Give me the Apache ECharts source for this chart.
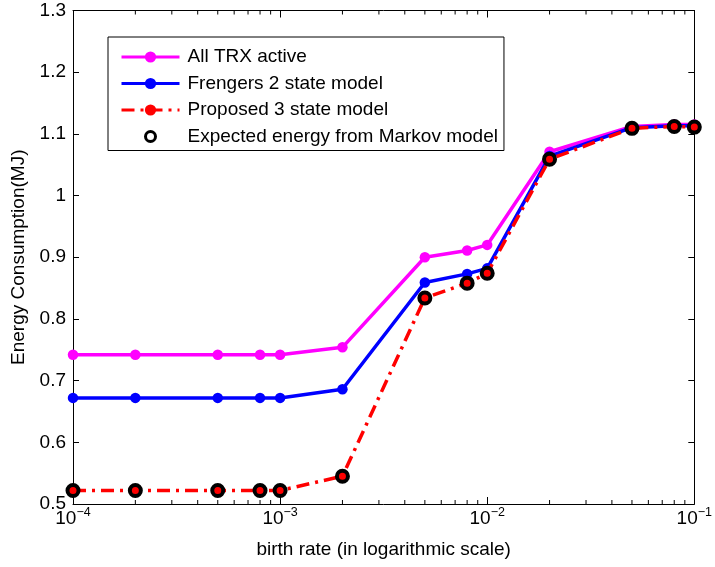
<!DOCTYPE html>
<html>
<head>
<meta charset="utf-8">
<script src="https://cdn.jsdelivr.net/npm/echarts@6/dist/echarts.min.js"></script>
<style>
  html, body { margin: 0; padding: 0; background: #fff; }
  #chart { width: 715px; height: 567px; }
</style>
</head>
<body>
<div id="chart"></div>
<script>
// Birth rates (log scale) and energy per scheme, MJ
const birthRates = [1e-4, 2e-4, 5e-4, 8e-4, 1e-3, 2e-3, 5e-3, 8e-3, 1e-2, 2e-2, 5e-2, 8e-2, 1e-1];
const allTrxActive = [0.742, 0.742, 0.742, 0.742, 0.742, 0.754, 0.900, 0.911, 0.920, 1.071, 1.112, 1.115, 1.115];
const frengers2State = [0.672, 0.672, 0.672, 0.672, 0.672, 0.686, 0.859, 0.873, 0.882, 1.064, 1.110, 1.113, 1.113];
const proposed3State = [0.522, 0.522, 0.522, 0.522, 0.522, 0.545, 0.834, 0.858, 0.874, 1.059, 1.109, 1.112, 1.111];
const markovExpected = [0.522, 0.522, 0.522, 0.522, 0.522, 0.545, 0.834, 0.858, 0.874, 1.059, 1.109, 1.112, 1.111];

const seriesNames = ['All TRX active', 'Frengers 2 state model', 'Proposed 3 state model', 'Expected energy from Markov model'];
const xTickExponents = ['-4', '-3', '-2', '-1'];
const yMin = 0.5, yMax = 1.3, yStep = 0.1;

// minor ticks of the log axis: 2..9 within each decade
const minorTicks = [];
[1e-4, 1e-3, 1e-2].forEach(function (d) {
  for (let k = 2; k <= 9; k++) minorTicks.push(+(d * k).toPrecision(3));
});

const FONT = 'Liberation Sans';
const FS = 19;
const pairs = arr => birthRates.map((x, i) => [x, arr[i]]);

// small ring for the legend entry (corner moves keep the ring inside a 14x14 box)
const ringIcon = 'path://M0,0 M14,14 M12,7 A5,5 0 1,1 2,7 A5,5 0 1,1 12,7 Z';

const chart = echarts.init(document.getElementById('chart'), null, { renderer: 'canvas' });

const xAxisBase = {
  type: 'log', logBase: 10, min: 1e-4, max: 1e-1,
  axisLine: { show: true, onZero: false, lineStyle: { color: '#000', width: 1 } },
  axisTick: { show: true, inside: true, length: 7, lineStyle: { color: '#000' } },
  minorTick: { show: false },
  splitLine: { show: false }
};
const yAxisBase = {
  type: 'value', min: yMin, max: yMax, interval: yStep,
  axisLine: { show: true, lineStyle: { color: '#000', width: 1 } },
  axisTick: { show: true, inside: true, length: 6, lineStyle: { color: '#000' } },
  splitLine: { show: false }
};

chart.setOption({
  animation: false,
  backgroundColor: '#fff',
  textStyle: { fontFamily: FONT },
  grid: { left: 73, right: 17, top: 10.5, bottom: 63 },
  legend: {
    data: [
      seriesNames[0], seriesNames[1], seriesNames[2],
      { name: seriesNames[3], icon: ringIcon,
        itemStyle: { color: 'rgba(0,0,0,0)', borderColor: '#000', borderWidth: 3, opacity: 1 } }
    ],
    orient: 'vertical',
    left: 108, top: 37,
    padding: [10, 6, 4, 12],
    itemWidth: 58, itemHeight: 14, itemGap: 6.5,
    backgroundColor: '#fff',
    borderColor: '#000', borderWidth: 1, borderRadius: 0,
    lineStyle: { width: 3 },
    textStyle: { fontFamily: FONT, fontSize: FS, color: '#000', lineHeight: 20, padding: [0, 0, 0, 3] },
    selectedMode: false
  },
  xAxis: [
    Object.assign({}, xAxisBase, {
      position: 'bottom',
      name: 'birth rate (in logarithmic scale)',
      nameLocation: 'middle', nameGap: 36,
      nameTextStyle: { fontFamily: FONT, fontSize: FS, color: '#000' },
      axisLabel: {
        margin: 2,
        color: '#000',
        formatter: function (v) {
          const e = Math.round(Math.log10(v));
          const s = xTickExponents.find(t => +t === e);
          return '{b|10}{s|' + (s ? s.replace('-', '\u2212') : e) + '}';
        },
        rich: {
          b: { fontFamily: FONT, fontSize: FS, color: '#000', verticalAlign: 'bottom' },
          s: { fontFamily: FONT, fontSize: 12.5, color: '#000', verticalAlign: 'bottom', padding: [0, 0, 9, 0] }
        }
      }
    }),
    Object.assign({}, xAxisBase, { position: 'top', axisLabel: { show: false } })
  ],
  yAxis: [
    Object.assign({}, yAxisBase, {
      position: 'left',
      name: 'Energy Consumption(MJ)',
      nameLocation: 'middle', nameGap: 42,
      nameTextStyle: { fontFamily: FONT, fontSize: FS, color: '#000' },
      axisLabel: { margin: 7, color: '#000', fontFamily: FONT, fontSize: FS }
    }),
    Object.assign({}, yAxisBase, { position: 'right', axisLabel: { show: false } })
  ],
  series: [
    {
      name: 'minor-ticks', type: 'custom', silent: true, z: 1,
      xAxisIndex: 0, yAxisIndex: 0,
      data: minorTicks.map(v => [v]),
      renderItem: function (params, api) {
        const b = api.coord([api.value(0), yMin]);
        const t = api.coord([api.value(0), yMax]);
        const st = { stroke: '#000', lineWidth: 1 };
        return {
          type: 'group',
          children: [
            { type: 'line', shape: { x1: b[0], y1: b[1], x2: b[0], y2: b[1] - 4 }, style: st },
            { type: 'line', shape: { x1: t[0], y1: t[1], x2: t[0], y2: t[1] + 4 }, style: st }
          ]
        };
      }
    },
    {
      name: seriesNames[0], type: 'line', data: pairs(allTrxActive), z: 2,
      symbol: 'circle', symbolSize: 10.5, showSymbol: true,
      color: '#ff00ff',
      lineStyle: { color: '#ff00ff', width: 3.5 },
      itemStyle: { color: '#ff00ff' }
    },
    {
      name: seriesNames[1], type: 'line', data: pairs(frengers2State), z: 3,
      symbol: 'circle', symbolSize: 10.5, showSymbol: true,
      color: '#0000ff',
      lineStyle: { color: '#0000ff', width: 3.5 },
      itemStyle: { color: '#0000ff' }
    },
    {
      name: seriesNames[2], type: 'line', data: pairs(proposed3State), z: 4,
      symbol: 'circle', symbolSize: 9, showSymbol: true,
      color: '#ff0000',
      lineStyle: { color: '#ff0000', width: 3.5, type: [13, 6, 3, 6] },
      itemStyle: { color: '#ff0000' }
    },
    {
      name: seriesNames[3], type: 'scatter', data: pairs(markovExpected), z: 5,
      symbol: 'circle', symbolSize: 11,
      color: '#000',
      itemStyle: { color: 'rgba(0,0,0,0)', borderColor: '#000', borderWidth: 4, opacity: 1 }
    }
  ]
});
</script>
</body>
</html>
